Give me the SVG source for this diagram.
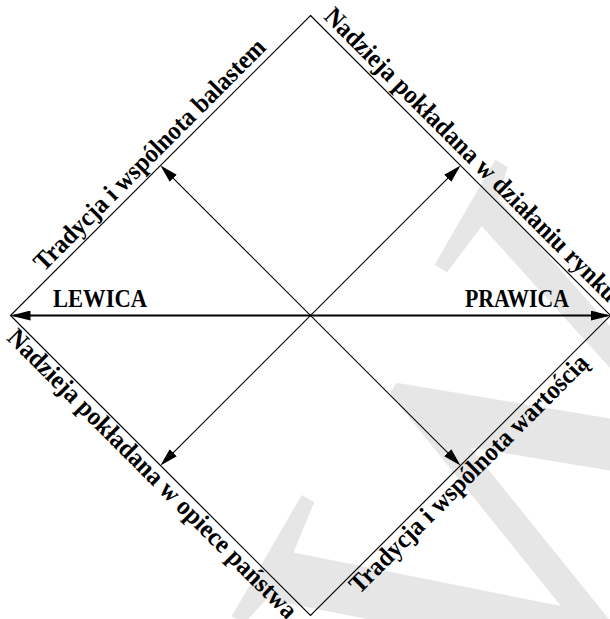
<svg xmlns="http://www.w3.org/2000/svg" width="610" height="619" viewBox="0 0 610 619">
<style>
.lbl{font-family:"Liberation Serif","Times New Roman",serif;font-weight:bold;font-size:26px;fill:#000}
.hl{font-size:25px}
.edge{fill:none;stroke:#000;stroke-width:1.2}
.ax{stroke:#000;stroke-width:2.2;fill:none}
.dg{stroke:#000;stroke-width:1.1;fill:none}
.wm{font-family:"Liberation Serif","Times New Roman",serif;font-size:560px;fill:#e6e6e6}
</style>
<defs>
<marker id="ahBig" viewBox="0 0 20 10" refX="17" refY="5" markerWidth="20" markerHeight="10" markerUnits="userSpaceOnUse" orient="auto-start-reverse"><path d="M0,0 L20,5 L0,10 z" fill="#000"/></marker>
<marker id="ahSm" viewBox="0 0 18 10" refX="15" refY="5" markerWidth="18" markerHeight="10" markerUnits="userSpaceOnUse" orient="auto-start-reverse"><path d="M0,0 L18,5 L0,10 z" fill="#000"/></marker>
</defs>
<rect width="610" height="619" fill="#fff"/>
<g id="watermark"><text class="wm" transform="translate(549,800) rotate(-60)">W</text></g>
<g id="frame"><polygon class="edge" points="310.5,15.5 610.5,315.5 310.5,615.5 10.5,315.5"/></g>
<g id="connectors">
<line class="ax" x1="13.5" y1="315.5" x2="607.5" y2="315.5" marker-start="url(#ahBig)" marker-end="url(#ahBig)"/>
<line class="dg" x1="162.6" y1="167.6" x2="458.4" y2="463.4" marker-start="url(#ahSm)" marker-end="url(#ahSm)"/>
<line class="dg" x1="458.4" y1="167.6" x2="162.6" y2="463.4" marker-start="url(#ahSm)" marker-end="url(#ahSm)"/>
</g>
<g id="lewica"><text class="lbl hl" x="53" y="306.5" textLength="94" lengthAdjust="spacingAndGlyphs">LEWICA</text></g>
<g id="prawica"><text class="lbl hl" x="465" y="306.5" textLength="104" lengthAdjust="spacingAndGlyphs">PRAWICA</text></g>
<g id="label-tl"><text class="lbl" text-anchor="middle" textLength="316" lengthAdjust="spacingAndGlyphs" transform="translate(155.5,160.5) rotate(-45)">Tradycja i wspólnota balastem</text></g>
<g id="label-tr"><text class="lbl" text-anchor="middle" textLength="404" lengthAdjust="spacingAndGlyphs" transform="translate(465.5,160.5) rotate(45)">Nadzieja pokładana w działaniu rynku</text></g>
<g id="label-bl"><text class="lbl" text-anchor="middle" textLength="398" lengthAdjust="spacingAndGlyphs" transform="translate(146.4,479.6) rotate(45)">Nadzieja pokładana w opiece państwa</text></g>
<g id="label-br"><text class="lbl" text-anchor="middle" textLength="326" lengthAdjust="spacingAndGlyphs" transform="translate(474.6,479.6) rotate(-45)">Tradycja i wspólnota wartością</text></g>
</svg>
